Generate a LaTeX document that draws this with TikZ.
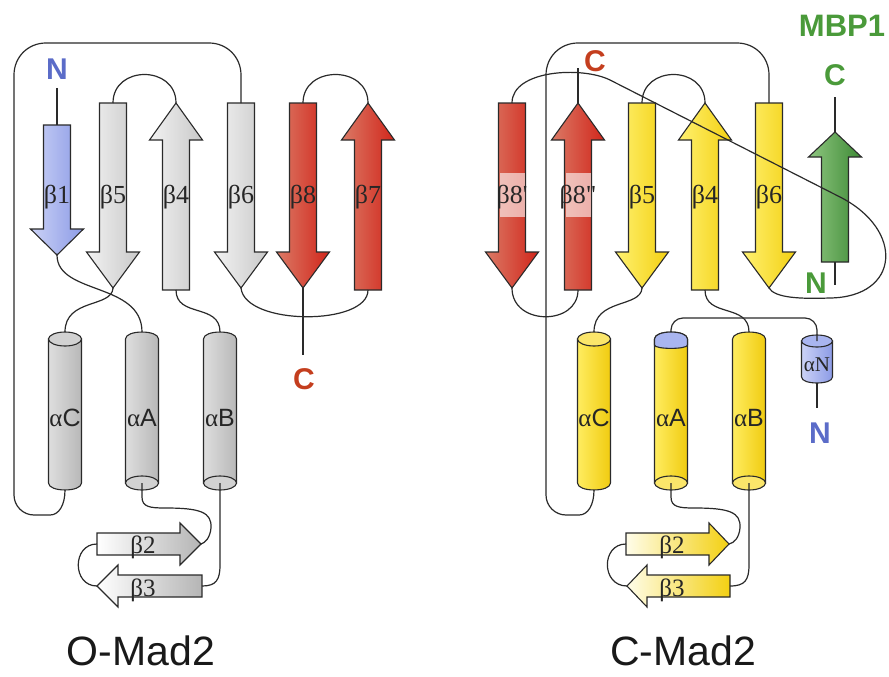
\documentclass[tikz,border=0pt]{standalone}
\usepackage{fontspec}
\setmainfont{Liberation Serif}
\newfontfamily\lsans{Liberation Sans}
\definecolor{outl}{HTML}{2A2A2A}
\definecolor{sgL}{HTML}{F2F2F2}\definecolor{sgD}{HTML}{C9C9C9}
\definecolor{sbL}{HTML}{CBD2F6}\definecolor{sbD}{HTML}{8C9BE6}
\definecolor{srL}{HTML}{DB7A66}\definecolor{srD}{HTML}{D1261B}
\definecolor{syL}{HTML}{FFF170}\definecolor{syD}{HTML}{F3D012}
\definecolor{sgrL}{HTML}{8EC680}\definecolor{sgrD}{HTML}{3E8A35}
\definecolor{hgL}{HTML}{DEDEDE}\definecolor{hgD}{HTML}{B8B8B8}
\definecolor{hyL}{HTML}{FFEC60}\definecolor{hyD}{HTML}{F0CC10}
\definecolor{capG}{HTML}{D2D2D2}\definecolor{capY}{HTML}{FBE66A}
\definecolor{capB}{HTML}{A9B5F0}
\definecolor{labBlue}{HTML}{5B6CC8}\definecolor{labRed}{HTML}{C43E1E}
\definecolor{labGrn}{HTML}{4A9A3A}
% vertical strand: name, x, y of tail end, y of head base, y of tip, style
\newcommand{\vstrand}[6]{%
  \path[strand,#6] ({#2-13.5},#3) -- ({#2+13.5},#3) -- ({#2+13.5},#4) -- ({#2+26.5},#4) -- (#2,#5) -- ({#2-26.5},#4) -- ({#2-13.5},#4) -- cycle;
  \coordinate (#1-end) at (#2,#3);
  \coordinate (#1-tip) at (#2,#5);}
% horizontal strand: name, y centre, x tail, x head base, x tip, style
\newcommand{\hstrand}[6]{%
  \path[strand,#6] (#3,{#2-11}) -- (#4,{#2-11}) -- (#4,{#2-21}) -- (#5,#2) -- (#4,{#2+21}) -- (#4,{#2+11}) -- (#3,{#2+11}) -- cycle;
  \coordinate (#1-end) at (#3,#2);
  \coordinate (#1-tip) at (#5,#2);}
% helix with visible top face
\newcommand{\helixT}[4]{%
  \path[strand,#3] ({#2-16.5},339) -- ({#2-16.5},483) .. controls ({#2-16.5},492.3) and ({#2+16.5},492.3) .. ({#2+16.5},483) -- ({#2+16.5},339) -- cycle;
  \path[strand,#4] (#2,339) ellipse [x radius=16.5pt, y radius=7pt];
  \coordinate (#1-top) at (#2,332);
  \coordinate (#1-bot) at (#2,490);}
% helix with visible bottom face
\newcommand{\helixB}[4]{%
  \path[strand,#3] ({#2-16.5},339) .. controls ({#2-16.5},329.7) and ({#2+16.5},329.7) .. ({#2+16.5},339) -- ({#2+16.5},483) -- ({#2-16.5},483) -- cycle;
  \path[strand,#4] (#2,483) ellipse [x radius=16.5pt, y radius=7pt];
  \coordinate (#1-top) at (#2,332);
  \coordinate (#1-bot) at (#2,483);}
\begin{document}
\begin{tikzpicture}[x=1pt,y=-1pt,
  strand/.style={draw=outl,line width=1.1pt,line join=miter},
  bbone/.style={draw=outl,line width=1.2pt},
  sgray/.style={left color=sgL,right color=sgD},
  sblue/.style={left color=sbL,right color=sbD},
  sred/.style={left color=srL,right color=srD},
  syel/.style={left color=syL,right color=syD},
  sgrn/.style={left color=sgrL,right color=sgrD},
  hsgray/.style={left color=white,right color=sgD!90!black},
  hsyel/.style={left color=white!85!syL,right color=syD},
  hgray/.style={left color=hgL,right color=hgD},
  hyel/.style={left color=hyL,right color=hyD},
  capgray/.style={fill=capG},
  capyel/.style={fill=capY},
  blab/.style={font=\fontsize{26}{26}\selectfont,text=black!85,inner sep=0pt,anchor=base},
  hlab/.style={font=\fontsize{25}{25}\selectfont,text=black!85,inner sep=0pt,anchor=base},
  alab/.style={font=\fontsize{25}{25}\selectfont,text=black!85,inner sep=0pt,anchor=base},
  term/.style={font=\lsans\bfseries\fontsize{30}{30}\selectfont,inner sep=0pt,anchor=base},
  title/.style={font=\lsans\fontsize{41}{41}\selectfont,inner sep=0pt,anchor=base,text=black!90}]
\useasboundingbox (0,0) rectangle (889,677);

% ================= O-Mad2 =================
\vstrand{b1}{57}{125}{229}{255}{sblue}
\vstrand{b5}{113}{103}{252}{288}{sgray}
\vstrand{b4}{176}{290}{140}{103}{sgray}
\vstrand{b6}{241}{103}{252}{288}{sgray}
\vstrand{b8}{303}{103}{252}{288}{sred}
\vstrand{b7}{368}{290}{140}{103}{sred}
\helixT{hC}{65}{hgray}{capgray}
\helixB{hA}{142}{hgray}{capgray}
\helixB{hB}{220}{hgray}{capgray}
\hstrand{b2}{544}{97}{180}{201}{hsgray}
\hstrand{b3}{586}{202}{118}{97}{hsgray}

\node[term,text=labBlue] (lN) at (57,80) {N};
\node[term,text=labRed] (lC) at (304,389) {C};
\coordinate (lNe) at (57,88);
\coordinate (lCe) at (303,355);

\draw[bbone] (lNe) -- (b1-end);
\draw[bbone] (b5-end) .. controls (113,65) and (176,65) .. (b4-tip);
\draw[bbone] (b8-end) .. controls (303,65) and (368,65) .. (b7-tip);
\draw[bbone] (b6-end) -- (241,75) .. controls (241,57) and (227,43) .. (209,43) -- (46,43) .. controls (28,43) and (14,57) .. (14,75) -- (14,495) .. controls (14,506) and (23,515) .. (34,515) -- (50,515) .. controls (59,515) and (65,505) .. (hC-bot);
\draw[bbone] (b1-tip) .. controls (57,295) and (142,282) .. (hA-top);
\draw[bbone] (b5-tip) .. controls (112,308) and (65,298) .. (hC-top);
\draw[bbone] (b4-end) .. controls (176,318) and (220,303) .. (hB-top);
\draw[bbone] (b6-tip) .. controls (245,326) and (368,326) .. (b7-end);
\draw[bbone] (b8-tip) -- (lCe);
\draw[bbone] (hA-bot) -- (142,497) .. controls (142,507) and (150,508) .. (165,508) .. controls (200,508) and (212,512) .. (211,528) .. controls (210,538) and (205,543) .. (b2-tip);
\draw[bbone] (b2-end) .. controls (72,544) and (72,586) .. (b3-tip);
\draw[bbone] (b3-end) .. controls (216,586) and (220,580) .. (220,565) -- (hB-bot);

\node[blab] (lb1) at (57,203) {β1};
\node[blab] (lb5) at (113,203) {β5};
\node[blab] (lb4) at (176,203) {β4};
\node[blab] (lb6) at (241,203) {β6};
\node[blab] (lb8) at (303,203) {β8};
\node[blab] (lb7) at (368,203) {β7};
\node[alab] (laC) at (65,426) {α{\lsans C}};
\node[alab] (laA) at (142,426) {α{\lsans A}};
\node[alab] (laB) at (220,426) {α{\lsans B}};
\node[hlab] (lb2) at (143,553) {β2};
\node[hlab] (lb3) at (143,596) {β3};
\node[title] (t1) at (141,665) {O-Mad2};

% ================= C-Mad2 =================
\vstrand{r8a}{512}{103}{252}{288}{sred}
\vstrand{r8b}{578}{290}{140}{103}{sred}
\vstrand{r5}{642}{103}{252}{288}{syel}
\vstrand{r4}{705}{290}{140}{103}{syel}
\vstrand{r6}{769}{103}{252}{288}{syel}
\vstrand{rm}{835}{262}{157}{132}{sgrn}
\fill[white,opacity=0.6] (499.5,173) rectangle (524.5,217);
\fill[white,opacity=0.6] (565.5,173) rectangle (590.5,217);
\helixT{rhC}{594}{hyel}{capyel}
\helixB{rhA}{671}{hyel}{capyel}
\path[strand,fill=capB] (654.5,345) -- (654.5,339) .. controls (654.5,329.7) and (687.5,329.7) .. (687.5,339) -- (687.5,345) .. controls (687.5,349.5) and (654.5,349.5) .. (654.5,345) -- cycle;
\helixB{rhB}{749}{hyel}{capyel}
\path[strand,sblue] (801.5,341) -- (801.5,377) .. controls (801.5,385) and (832.5,385) .. (832.5,377) -- (832.5,341) -- cycle;
\path[strand,fill=capB] (817,341) ellipse [x radius=15.5pt, y radius=6pt];
\coordinate (hN-top) at (817,341);
\coordinate (hN-bot) at (817,383);
\hstrand{rb2}{544}{626}{709}{729}{hsyel}
\hstrand{rb3}{586}{730}{647}{627}{hsyel}

\node[term,text=labRed] (rC) at (595,72) {C};
\node[term,text=labGrn,font=\lsans\bfseries\fontsize{31}{31}\selectfont] (mbp) at (842,37) {MBP1};
\node[term,text=labGrn] (gC) at (835,85) {C};
\node[term,text=labGrn] (gN) at (816,293) {N};
\node[term,text=labBlue] (rN) at (820,443) {N};
\coordinate (rCe) at (578,68);
\coordinate (gCe) at (835,97);
\coordinate (gNe) at (835,285);
\coordinate (rNe) at (817,408);

\draw[bbone] (r8b-tip) -- (rCe);
\draw[bbone] (gCe) -- (rm-tip);
\draw[bbone] (rm-end) -- (gNe);
\draw[bbone] (hN-bot) -- (rNe);
\draw[bbone] (r5-end) .. controls (642,65) and (705,65) .. (r4-tip);
\draw[bbone] (r8a-tip) .. controls (512,326) and (578,326) .. (r8b-end);
\draw[bbone] (r6-end) -- (769,75) .. controls (769,57) and (755,43) .. (737,43) -- (578,43) .. controls (560,43) and (546,57) .. (546,75) -- (546,495) .. controls (546,506) and (555,515) .. (566,515) -- (579,515) .. controls (588,515) and (594,505) .. (rhC-bot);
\draw[bbone] (r5-tip) .. controls (641,308) and (594,298) .. (rhC-top);
\draw[bbone] (r4-end) .. controls (705,318) and (749,303) .. (rhB-top);
\draw[bbone,rounded corners=12pt] (rhA-top) -- (671,318) -- (817,318) -- (hN-top);
\draw[bbone] (rhA-bot) -- (671,497) .. controls (671,507) and (679,508) .. (694,508) .. controls (729,508) and (741,512) .. (740,528) .. controls (739,538) and (734,543) .. (rb2-tip);
\draw[bbone] (rb2-end) .. controls (601,544) and (601,586) .. (rb3-tip);
\draw[bbone] (rb3-end) .. controls (745,586) and (749,580) .. (749,565) -- (rhB-bot);

\node[blab] (rl8a) at (512,203) {β8\textquotesingle};
\node[blab] (rl8b) at (578,203) {β8\textquotedbl};
\node[blab] (rl5) at (642,203) {β5};
\node[blab] (rl4) at (705,203) {β4};
\node[blab] (rl6) at (769,203) {β6};
\node[alab] (raC) at (594,426) {α{\lsans C}};
\node[alab] (raA) at (671,426) {α{\lsans A}};
\node[alab] (raB) at (749,426) {α{\lsans B}};
\node[alab,font=\fontsize{21}{21}\selectfont] (raN) at (817,371) {αN};
\node[hlab] (rl2) at (672,553) {β2};
\node[hlab] (rl3) at (672,596) {β3};
\node[title] (t2) at (683,665) {C-Mad2};

% long crossing loop from beta6 to beta8'
\draw[bbone] (r8a-end) .. controls (512,70) and (582,66) .. (610,80) -- (840,197) .. controls (905,230) and (900,297) .. (830,298) .. controls (800,299) and (775,298) .. (r6-tip);
\end{tikzpicture}
\end{document}
